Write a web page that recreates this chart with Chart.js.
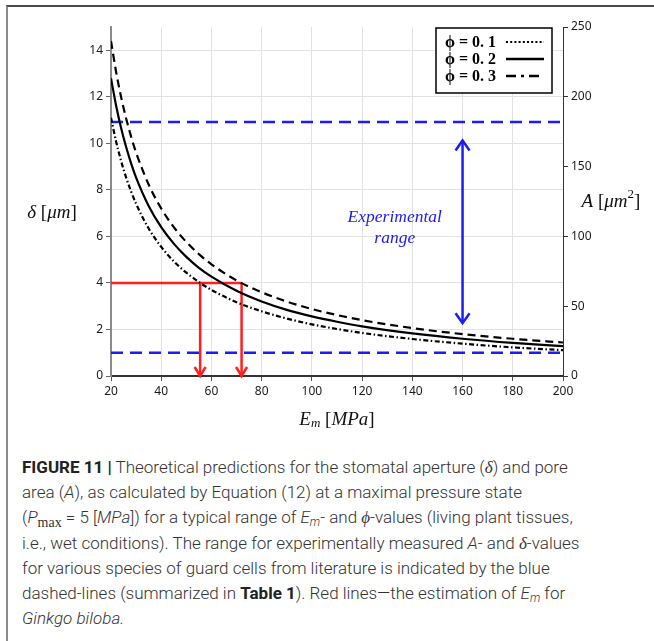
<!DOCTYPE html>
<html>
<head>
<meta charset="utf-8">
<script src="https://cdn.jsdelivr.net/npm/chart.js@4"></script>
<style>
  html, body { margin: 0; padding: 0; background: #fff; }
  #page { position: relative; width: 654px; height: 641px; overflow: hidden; background: #fff; }
  #frame { position: absolute; left: 6px; top: 5px; width: 660px; height: 660px;
           border-left: 2px solid #8a8a8a; border-top: 2px solid #4a4a4a; }
  #chart { position: absolute; left: 0; top: 0; }
  #caption { position: absolute; left: 22px; top: 455px; font-family: Roboto, 'Liberation Sans', sans-serif;
             font-weight: 300; font-size: 17px; line-height: 25.2px; color: #333; white-space: nowrap; }
  #caption b { font-weight: 700; color: #222; }
  #caption sub { line-height: 0; vertical-align: -0.25em; font-size: 12px; }
  .m { font-family: 'Liberation Serif', serif; }
</style>
</head>
<body>
<div id="page">
  <div id="frame"></div>
  <canvas id="chart" width="654" height="440"></canvas>
  <div id="caption">
    <b>FIGURE 11</b> <b>|</b> Theoretical predictions for the stomatal aperture (<i class="m">δ</i>) and pore<br>
    area (<i>A</i>), as calculated by Equation (12) at a maximal pressure state<br>
    (<i>P</i><sub class="m" style="font-size:14px">max</sub> = 5 [<i>MPa</i>]) for a typical range of <i>E<sub>m</sub></i>- and <i class="m">ϕ</i>-values (living plant tissues,<br>
    i.e., wet conditions). The range for experimentally measured <i>A</i>- and <i class="m">δ</i>-values<br>
    for various species of guard cells from literature is indicated by the blue<br>
    dashed-lines (summarized in <b>Table 1</b>). Red lines—the estimation of <i>E<sub>m</sub></i> for<br>
    <i>Ginkgo biloba.</i>
  </div>
</div>
<script>
// E_m [MPa] sample positions and stomatal aperture readings (delta, um)
const emValues = [20, 22, 24, 26, 28, 30, 35, 40, 45, 50, 55, 60, 70, 80, 90, 100, 110, 120, 140, 160, 180, 200]
const deltaUpper = [14.4, 13.09, 12.0, 11.08, 10.29, 9.6, 8.23, 7.2, 6.4, 5.76, 5.24, 4.8, 4.11, 3.6, 3.2, 2.88, 2.62, 2.4, 2.06, 1.8, 1.6, 1.44]
const deltaMiddle = [12.8, 11.64, 10.67, 9.85, 9.14, 8.53, 7.31, 6.4, 5.69, 5.12, 4.65, 4.27, 3.66, 3.2, 2.84, 2.56, 2.33, 2.13, 1.83, 1.6, 1.42, 1.28]
const deltaLower = [11.1, 10.09, 9.25, 8.54, 7.93, 7.4, 6.34, 5.55, 4.93, 4.44, 4.04, 3.7, 3.17, 2.78, 2.47, 2.22, 2.02, 1.85, 1.59, 1.39, 1.23, 1.11]

const legendLabels = ['ϕ = 0. 1', 'ϕ = 0. 2', 'ϕ = 0. 3']

// experimental range (blue) and Ginkgo estimate (red)
const rangeLow = 1.0
const rangeHigh = 10.92
const rangeArrowX = 160
const rangeArrowFrom = 2.27
const rangeArrowTo = 10.12
const ginkgoDelta = 4
const ginkgoEm = [55.5, 72]

const xTicks = [20, 40, 60, 80, 100, 120, 140, 160, 180, 200]

function pts(xs, ys) {
    return xs.map((x, i) => ({x: x, y: ys[i]}))
}

const BLUE = '#1c1cf5'
const RED = '#ff1f1f'

function curve(data, dash) {
    return {data: data, borderColor: '#000', borderWidth: 2.2, borderDash: dash,
        pointRadius: 0, cubicInterpolationMode: 'monotone', fill: false}
}
function straight(data, color, dash, width) {
    return {data: data, borderColor: color, borderWidth: width, borderDash: dash,
        pointRadius: 0, tension: 0, fill: false, clip: 4}
}

function head(ctx, x, y, dir, half, len, color) {
    ctx.save()
    ctx.strokeStyle = color
    ctx.lineWidth = 2.5
    ctx.setLineDash([])
    ctx.beginPath()
    ctx.moveTo(x - half, y - dir * len)
    ctx.lineTo(x, y)
    ctx.lineTo(x + half, y - dir * len)
    ctx.stroke()
    ctx.restore()
}

function runs(ctx, parts, cx, cy) {
    let total = 0
    parts.forEach(p => { ctx.font = p.font; total += ctx.measureText(p.t).width })
    let x = cx - total / 2
    ctx.textBaseline = 'middle'
    ctx.textAlign = 'left'
    parts.forEach(p => {
        ctx.font = p.font
        ctx.fillText(p.t, x, cy + (p.dy || 0))
        x += ctx.measureText(p.t).width
    })
}

const extras = {
    id: 'extras',
    afterDatasetsDraw(chart) {
        const ctx = chart.ctx
        const xs = chart.scales.x
        const ys = chart.scales.y
        // arrow heads
        ginkgoEm.forEach(e => head(ctx, xs.getPixelForValue(e), ys.getPixelForValue(0), 1, 5.5, 9, RED))
        const ax = xs.getPixelForValue(rangeArrowX)
        head(ctx, ax, ys.getPixelForValue(rangeArrowTo), -1, 7, 10, BLUE)
        head(ctx, ax, ys.getPixelForValue(rangeArrowFrom), 1, 7, 10, BLUE)

        // experimental range label
        ctx.save()
        ctx.fillStyle = BLUE
        ctx.font = 'italic 17.5px "Liberation Serif", serif'
        ctx.textAlign = 'center'
        ctx.textBaseline = 'middle'
        ctx.fillText('Experimental', xs.getPixelForValue(133), ys.getPixelForValue(6.8))
        ctx.fillText('range', xs.getPixelForValue(133), ys.getPixelForValue(5.9))
        ctx.restore()

        // legend box
        ctx.save()
        ctx.fillStyle = '#fff'
        ctx.fillRect(436, 28, 116, 65)
        ctx.strokeStyle = '#000'
        ctx.lineWidth = 1.5
        ctx.strokeRect(436, 28, 116, 65)
        const dashes = [[2, 2.2], [], [10, 5, 3, 5]]
        const rows = [42, 59, 76]
        rows.forEach((ry, i) => {
            ctx.fillStyle = '#000'
            ctx.font = 'bold 16px "Liberation Serif", serif'
            ctx.textAlign = 'left'
            ctx.textBaseline = 'middle'
            ctx.fillText(legendLabels[i], 445, ry + 1)
            ctx.beginPath()
            ctx.setLineDash(dashes[i])
            ctx.lineWidth = i === 0 ? 2 : 2.5
            ctx.moveTo(506, ry)
            ctx.lineTo(544, ry)
            ctx.stroke()
        })
        ctx.restore()

        // axis titles
        ctx.save()
        ctx.fillStyle = '#111'
        const it = 'italic 19px "Liberation Serif", serif'
        const rm = '19px "Liberation Serif", serif'
        runs(ctx, [{t: 'δ', font: it}, {t: ' [', font: rm}, {t: 'μm', font: it}, {t: ']', font: rm}], 52, 213)
        runs(ctx, [{t: 'A', font: it}, {t: ' [', font: rm}, {t: 'μm', font: it},
            {t: '2', font: '13px "Liberation Serif", serif', dy: -7}, {t: ']', font: rm}], 611, 202)
        runs(ctx, [{t: 'E', font: it}, {t: 'm', font: 'italic 13px "Liberation Serif", serif', dy: 4},
            {t: ' [', font: rm}, {t: 'MPa', font: it}, {t: ']', font: rm}], 337, 420)
        ctx.restore()
    }
}

const tickFont = {family: "'Noto Sans', sans-serif", size: 12}

new Chart(document.getElementById('chart').getContext('2d'), {
    type: 'line',
    data: {
        datasets: [
            curve(pts(emValues, deltaUpper), [8, 5]),
            curve(pts(emValues, deltaMiddle), []),
            curve(pts(emValues, deltaLower), [5, 2.5, 1.5, 2.5]),
            straight([{x: 20, y: rangeHigh}, {x: 200, y: rangeHigh}], BLUE, [12, 7], 2.6),
            straight([{x: 20, y: rangeLow}, {x: 200, y: rangeLow}], BLUE, [12, 7], 2.6),
            straight([{x: rangeArrowX, y: rangeArrowFrom}, {x: rangeArrowX, y: rangeArrowTo}], BLUE, [], 2.5),
            straight([{x: 20, y: ginkgoDelta}, {x: ginkgoEm[1], y: ginkgoDelta}], RED, [], 2.5),
            straight([{x: ginkgoEm[0], y: ginkgoDelta}, {x: ginkgoEm[0], y: 0}], RED, [], 2.5),
            straight([{x: ginkgoEm[1], y: ginkgoDelta}, {x: ginkgoEm[1], y: 0}], RED, [], 2.5)
        ]
    },
    options: {
        responsive: false,
        animation: false,
        layout: {padding: {top: 27, left: 0, right: 0, bottom: 0}},
        plugins: {legend: {display: false}, tooltip: {enabled: false}},
        scales: {
            x: {
                type: 'linear', min: 20, max: 200,
                afterBuildTicks: s => { s.ticks = xTicks.map(v => ({value: v})) },
                afterFit: s => { s.height = 64 },
                ticks: {font: tickFont, color: '#1a1a1a', padding: 3, maxRotation: 0},
                grid: {color: '#e2e2e2', lineWidth: 1, tickLength: 5, tickColor: '#555'},
                border: {color: '#333', width: 2}
            },
            y: {
                position: 'left', min: 0, max: 15,
                afterFit: s => { s.width = 111 },
                ticks: {stepSize: 2, includeBounds: false, font: tickFont, color: '#1a1a1a', padding: 3},
                grid: {color: '#e2e2e2', lineWidth: 1, tickLength: 5, tickColor: '#666'},
                border: {color: '#8a8a8a', width: 2}
            },
            y2: {
                position: 'right', min: 0, max: 250,
                afterFit: s => { s.width = 91 },
                ticks: {stepSize: 50, font: tickFont, color: '#1a1a1a', padding: 3},
                grid: {drawOnChartArea: false, tickLength: 5, tickColor: '#333'},
                border: {color: '#333', width: 1}
            }
        }
    },
    plugins: [extras]
})
</script>
</body>
</html>
